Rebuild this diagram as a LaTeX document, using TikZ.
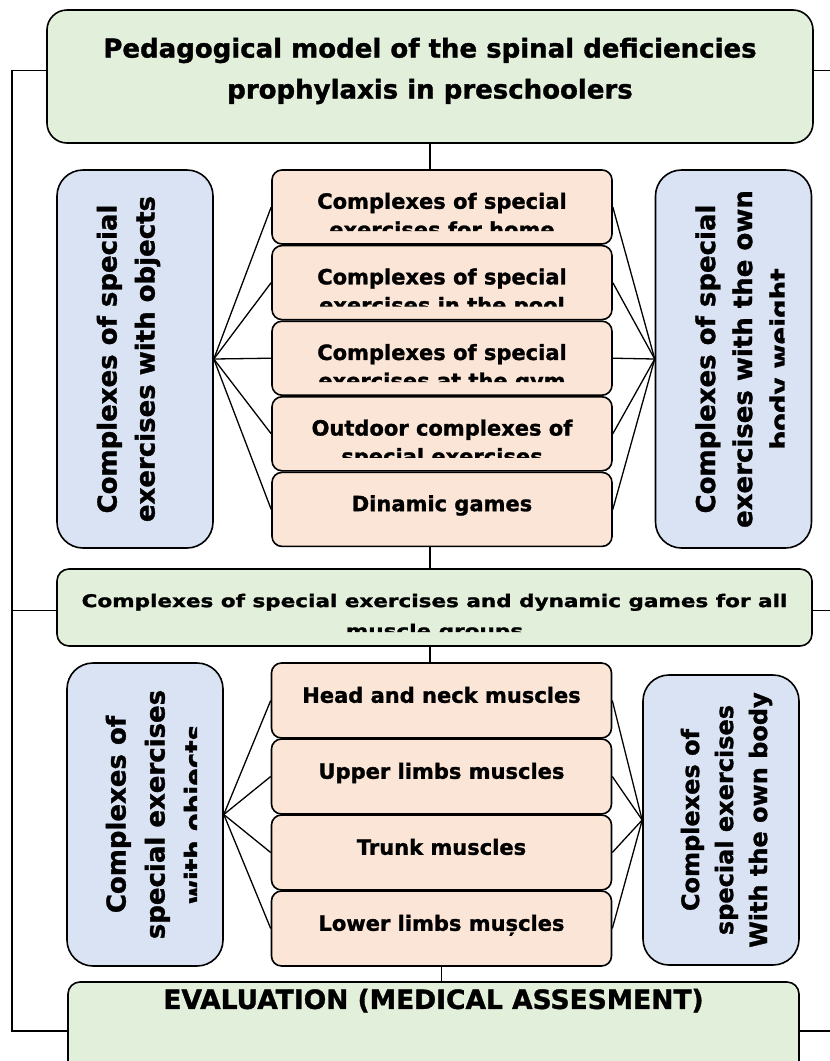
\documentclass[tikz,border=0pt]{standalone}
\usepackage{fontspec}
\setmainfont{DejaVu Sans}[BoldFeatures={FakeBold=1.3}]
\newfontfamily\widebold[FakeStretch=1.23,FakeBold=1.3]{DejaVu Sans Bold}
\usetikzlibrary{positioning}

\definecolor{boxgreen}{RGB}{226,239,218}
\definecolor{boxblue}{RGB}{218,227,243}
\definecolor{boxorange}{RGB}{251,229,214}

\newcommand{\titlefont}{\fontsize{26}{41}\selectfont\bfseries}
\newcommand{\orangefont}{\fontsize{21}{28.5}\selectfont\bfseries}
\newcommand{\midfont}{\fontsize{17.5}{30}\selectfont\widebold}

\tikzset{
  box/.style={draw, line width=1.6pt, inner sep=0pt},
  greenbox/.style={box, fill=boxgreen, rounded corners=12pt},
  bluebox/.style={box, fill=boxblue, rounded corners=26pt, minimum width=156pt},
  orangebox/.style={box, fill=boxorange, rounded corners=10pt, minimum width=340pt, minimum height=74pt},
  link/.style={line width=1.3pt},
  plain/.style={draw=none, fill=none, inner sep=0pt, minimum width=0pt, minimum height=0pt, rounded corners=0pt},
  toptext/.style n args={4}{path picture={
    \clip ([yshift=#2]path picture bounding box.south west) rectangle (path picture bounding box.north east);
    \node[plain, anchor=north, align=center, font={#3}]
      at ([yshift=-#1]path picture bounding box.north) {#4};}},
  sidetext/.style n args={4}{path picture={
    \clip (path picture bounding box.south west) rectangle ([xshift=-#2]path picture bounding box.north east);
    \node[plain, anchor=north, rotate=90, align=center, font={#3}]
      at ([xshift=#1]path picture bounding box.west) {#4};}}
}

\begin{document}
\begin{tikzpicture}[x=1pt, y=-1pt, node distance=75.6pt]

\useasboundingbox (0,0) rectangle (830,1061);

\node (title) [greenbox, rounded corners=20pt, minimum width=766pt, minimum height=133pt,
  toptext={27pt}{0pt}{\titlefont}{Pedagogical model of the spinal deficiencies\\prophylaxis in preschoolers}]
  at (430,76.5) {};

\node (up1) [orangebox, toptext={22pt}{13pt}{\orangefont}{Complexes of special\\exercises for home}] at (442,207) {};
\node (up2) [orangebox, below of=up1, toptext={22pt}{13pt}{\orangefont}{Complexes of special\\exercises in the pool}] {};
\node (up3) [orangebox, below of=up2, toptext={22pt}{13pt}{\orangefont}{Complexes of special\\exercises at the gym}] {};
\node (up4) [orangebox, below of=up3, toptext={22pt}{13pt}{\orangefont}{Outdoor complexes of\\special exercises}] {};
\node (up5) [orangebox, below of=up4, toptext={22pt}{13pt}{\orangefont}{Dinamic games}] {};

\node (ulb) [bluebox, minimum height=378pt,
  sidetext={39pt}{27pt}{\fontsize{26}{38}\selectfont\bfseries}{Complexes of special\\exercises with objects}]
  at (135,359) {};
\node (urb) [bluebox, minimum height=378pt,
  sidetext={39pt}{27pt}{\fontsize{26}{37}\selectfont\bfseries}{Complexes of special\\exercises with the own\\body weight}]
  at (733.5,359) {};

\node (mid) [greenbox, minimum width=755pt, minimum height=77pt,
  toptext={24pt}{14pt}{\midfont}{Complexes of special exercises and dynamic games for all\\muscle groups}]
  at (434.5,607.5) {};

\node (lo1) [orangebox, minimum height=75pt, toptext={23pt}{0pt}{\orangefont}{Head and neck muscles}] at (441.5,700.5) {};
\node (lo2) [orangebox, minimum height=75pt, below of=lo1, node distance=76pt, toptext={23pt}{0pt}{\orangefont}{Upper limbs muscles}] {};
\node (lo3) [orangebox, minimum height=75pt, below of=lo2, node distance=76pt, toptext={23pt}{0pt}{\orangefont}{Trunk muscles}] {};
\node (lo4) [orangebox, minimum height=75pt, below of=lo3, node distance=76pt, toptext={23pt}{0pt}{\orangefont}{Lower limbs mușcles}] {};

\node (llb) [bluebox, minimum height=303pt,
  sidetext={38pt}{26pt}{\fontsize{26}{39}\selectfont\bfseries}{Complexes of\\special exercises\\with objects}]
  at (145,814.5) {};
\node (lrb) [bluebox, minimum height=290pt,
  sidetext={37pt}{26pt}{\fontsize{24}{34}\selectfont\bfseries}{Complexes of\\special exercises\\With the own body}]
  at (721,820) {};

\node (eval) [greenbox, minimum width=731pt, minimum height=98pt,
  toptext={6pt}{0pt}{\fontsize{26.5}{32}\selectfont\bfseries}{EVALUATION (MEDICAL ASSESMENT)}]
  at (433.5,1031) {};

\coordinate (rail) at (12,0);
\coordinate (edge) at (830,0);

\draw[link] (title.south) -- (title.south |- up1.north);
\draw[link] (up5.south -| title.south) -- (mid.north -| title.south);
\draw[link] (mid.south -| title.south) -- (lo1.north -| title.south);
\draw[link] (lo4.south) -- (lo4.south |- eval.north);

\foreach \b in {up1,up2,up3,up4,up5} {
  \draw[link] (ulb.east) -- (\b.west);
  \draw[link] (urb.west) -- (\b.east);
}
\foreach \b in {lo1,lo2,lo3,lo4} {
  \draw[link] (llb.east) -- (\b.west);
  \draw[link] (lrb.west) -- (\b.east);
}

\draw[link] ([yshift=6pt]title.west) -- ([yshift=6pt]title.west -| rail) |- (eval.west);
\draw[link] ([yshift=-3pt]mid.west) -- ([yshift=-3pt]mid.west -| rail);
\draw[link] ([yshift=6pt]title.east) -- ([yshift=6pt]title.east -| edge);
\draw[link] ([yshift=-3pt]mid.east) -- ([yshift=-3pt]mid.east -| edge);
\draw[link] (eval.east) -- (eval.east -| edge);

\end{tikzpicture}
\end{document}
